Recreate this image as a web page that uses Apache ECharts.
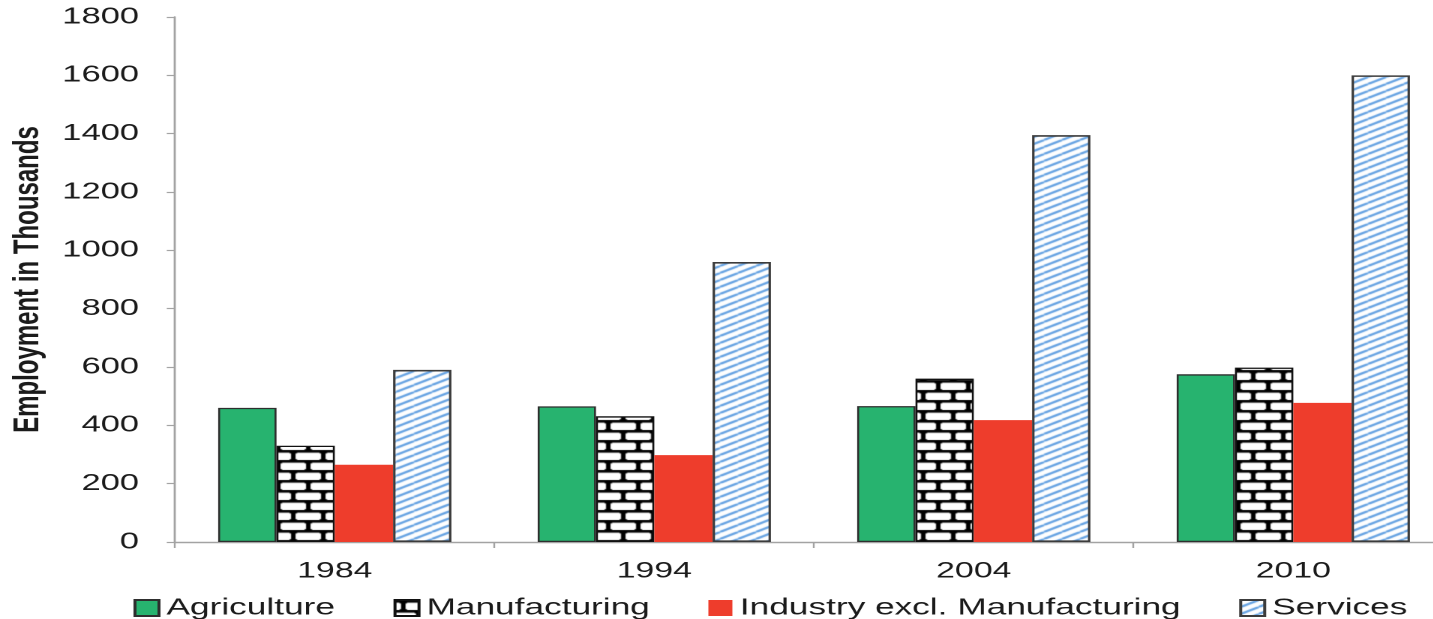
<!DOCTYPE html>
<html>
<head>
<meta charset="utf-8">
<title>Employment by Sector</title>
<script src="https://cdn.jsdelivr.net/npm/echarts@6/dist/echarts.min.js"></script>
<style>
  html, body { margin: 0; padding: 0; background: #fff; overflow: hidden; }
  #wrap { width: 1433px; height: 619px; overflow: hidden; }
  /* the chart is laid out narrow and widened 1.5x, giving the wide lettering */
  #chart { width: 955.33px; height: 619px; transform: scaleX(1.5); transform-origin: 0 0; }
</style>
</head>
<body>
<div id="wrap"><div id="chart"></div></div>
<script>
// ---- data ----
const years = ['1984', '1994', '2004', '2010'];
const seriesNames = ['Agriculture', 'Manufacturing', 'Industry excl. Manufacturing', 'Services'];
const agriculture = [460, 465, 466, 575];
const manufacturing = [330, 431, 560, 598];
const industryExclManufacturing = [265, 298, 418, 477];
const services = [590, 960, 1395, 1600];
const yTicks = { min: 0, max: 1800, interval: 200 };

// ---- fill patterns ----
function brickPattern() {
  const c = document.createElement('canvas');
  c.width = 20; c.height = 20;
  const g = c.getContext('2d');
  g.fillStyle = '#fff';
  g.fillRect(0, 0, 20, 20);
  g.fillStyle = '#000';
  // mortar rows
  g.fillRect(0, 0, 20, 2.6);
  g.fillRect(0, 10, 20, 2.6);
  // head joints, offset every other row
  g.fillRect(4, 0, 3, 10);
  g.fillRect(3, 1.6, 5, 1.8);
  g.fillRect(3, 9.2, 5, 1.8);
  g.fillRect(14, 10, 3, 10);
  g.fillRect(13, 11.6, 5, 1.8);
  g.fillRect(13, 19.2, 5, 1.8);
  return c;
}
function diagonalPattern() {
  const W = 12, H = 7;
  const c = document.createElement('canvas');
  c.width = W; c.height = H;
  const g = c.getContext('2d');
  g.fillStyle = '#fff';
  g.fillRect(0, 0, W, H);
  g.strokeStyle = '#63a1e2';
  g.lineWidth = 2;
  for (let k = -1; k <= 1; k++) {
    g.beginPath();
    g.moveTo(0, H + k * H);
    g.lineTo(W, k * H);
    g.stroke();
  }
  return c;
}

const textColor = '#1b1b1b';
const axisGray = '#a3a3a3';
const fontFamily = '"Liberation Sans", Arial, sans-serif';

const chart = echarts.init(document.getElementById('chart'), null, { renderer: 'canvas', devicePixelRatio: 2 });

chart.setOption({
  animation: false,
  backgroundColor: '#fff',
  textStyle: { fontFamily: fontFamily, color: textColor },
  grid: { left: 116.7, top: 17, width: 852, bottom: 77, containLabel: false, outerBoundsMode: 'none' },
  legend: {
    left: 84,
    top: 591,
    icon: 'rect',
    itemWidth: 16,
    itemHeight: 16,
    itemGap: 39,
    textStyle: { fontSize: 23.5, color: textColor, fontFamily: fontFamily },
    data: seriesNames
  },
  xAxis: {
    type: 'category',
    data: years,
    axisLine: { lineStyle: { color: axisGray, width: 1.4 } },
    axisTick: { show: true, length: 6, lineStyle: { color: axisGray, width: 1.2 } },
    axisLabel: { fontSize: 22.5, color: textColor, margin: 18, fontFamily: fontFamily }
  },
  yAxis: {
    type: 'value',
    min: yTicks.min,
    max: yTicks.max,
    interval: yTicks.interval,
    name: 'Employment in Thousands',
    nameLocation: 'middle',
    nameGap: 86,
    nameRotate: 90,
    nameTextStyle: { fontSize: 24, fontWeight: 'bold', color: textColor, fontFamily: fontFamily },
    axisLine: { show: true, lineStyle: { color: axisGray, width: 1.4 } },
    axisTick: { show: true, inside: false, length: 5.5, lineStyle: { color: axisGray, width: 1.2 } },
    axisLabel: { fontSize: 23, color: textColor, margin: 24, fontFamily: fontFamily, formatter: v => String(v) },
    splitLine: { show: false }
  },
  series: [
    {
      name: seriesNames[0], type: 'bar', data: agriculture,
      barGap: '0%', barCategoryGap: '27%',
      itemStyle: { color: '#27b36f', borderColor: '#2e2e2e', borderWidth: 1.3 }
    },
    {
      name: seriesNames[1], type: 'bar', data: manufacturing,
      barGap: '0%', barCategoryGap: '27%',
      itemStyle: { color: { image: brickPattern(), repeat: 'repeat' }, borderColor: '#111', borderWidth: 1.3 }
    },
    {
      name: seriesNames[2], type: 'bar', data: industryExclManufacturing,
      barGap: '0%', barCategoryGap: '27%',
      itemStyle: { color: '#ee3d2c', borderWidth: 0 }
    },
    {
      name: seriesNames[3], type: 'bar', data: services,
      barGap: '0%', barCategoryGap: '27%',
      itemStyle: { color: { image: diagonalPattern(), repeat: 'repeat' }, borderColor: '#3c3c3c', borderWidth: 1.6 }
    }
  ]
});
</script>
</body>
</html>
